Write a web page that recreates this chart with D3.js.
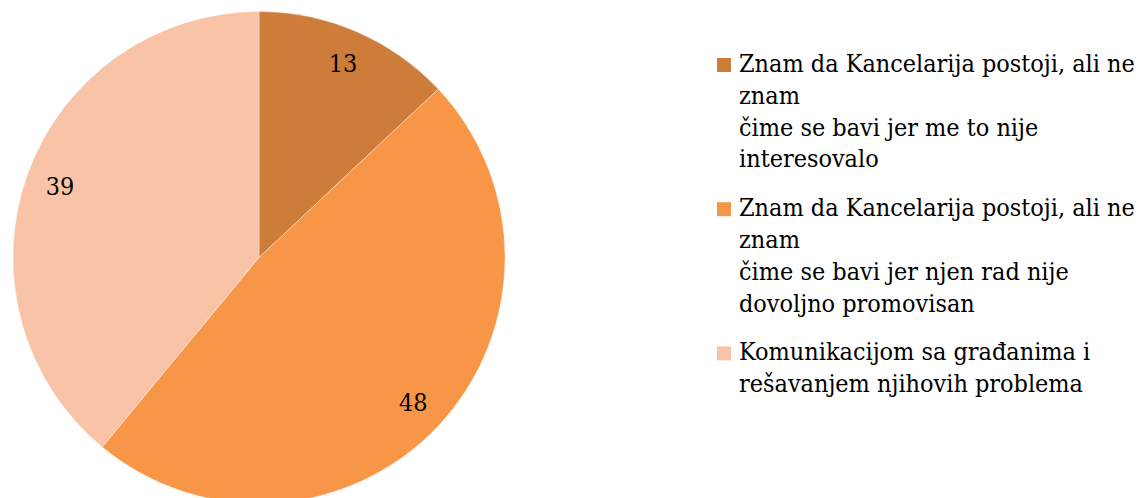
<!DOCTYPE html>
<html>
<head>
<meta charset="utf-8">
<script src="https://cdn.jsdelivr.net/npm/d3@7"></script>
<style>
  html, body { margin: 0; padding: 0; background: #fff; }
  svg { display: block; }
  text { font-family: "DejaVu Serif", "Liberation Serif", "Times New Roman", serif; font-stretch: condensed; fill: #000; }
</style>
</head>
<body>
<div id="chart"></div>
<script>
// data
var categories = [
  ["Znam da Kancelarija postoji, ali ne", "znam", "čime se bavi jer me to nije", "interesovalo"],
  ["Znam da Kancelarija postoji, ali ne", "znam", "čime se bavi jer njen rad nije", "dovoljno promovisan"],
  ["Komunikacijom sa građanima i", "rešavanjem njihovih problema"]
];
var values = [13, 48, 39];
var colors = ["#CD7C39", "#F79646", "#F8C3A7"];

var width = 1139, height = 498;
var cx = 259, cy = 257.5, radius = 246;

var svg = d3.select("#chart").append("svg")
  .attr("width", width)
  .attr("height", height);

// find legend font size so the long line spans ~396px like the original
var probe = svg.append("text").style("font-size", "20px").text(categories[0][0]);
var fontSize = 20 * 396 / probe.node().getComputedTextLength();
probe.remove();

var pie = d3.pie().sort(null).value(function(d){ return d; });
var arc = d3.arc().innerRadius(0).outerRadius(radius);
var labelArc = d3.arc().innerRadius(radius * 0.86).outerRadius(radius * 0.86);

var g = svg.append("g").attr("transform", "translate(" + cx + "," + cy + ")");

var slices = g.selectAll(".slice")
  .data(pie(values))
  .enter().append("g")
  .attr("class", "slice");

slices.append("path")
  .attr("d", arc)
  .attr("fill", function(d, i){ return colors[i]; })
  .attr("stroke", "rgba(255,255,255,0.45)")
  .attr("stroke-width", 0.8);

slices.append("text")
  .attr("transform", function(d){ return "translate(" + labelArc.centroid(d) + ")"; })
  .attr("text-anchor", "middle")
  .attr("dy", "0.35em")
  .style("font-size", fontSize + "px")
  .text(function(d){ return d.data; });

// legend
var lineH = 31.8, gap = 17, firstBase = 72;
var legend = svg.append("g").attr("class", "legend");
var base = firstBase;
categories.forEach(function(lines, i){
  var item = legend.append("g");
  item.append("rect")
    .attr("x", 717)
    .attr("y", base - 14)
    .attr("width", 14)
    .attr("height", 14)
    .attr("fill", colors[i]);
  var t = item.append("text")
    .attr("x", 739)
    .attr("y", base)
    .style("font-size", fontSize + "px");
  lines.forEach(function(l, j){
    t.append("tspan")
      .attr("x", 739)
      .attr("y", base + j * lineH)
      .text(l);
  });
  base += lines.length * lineH + gap;
});
</script>
</body>
</html>
